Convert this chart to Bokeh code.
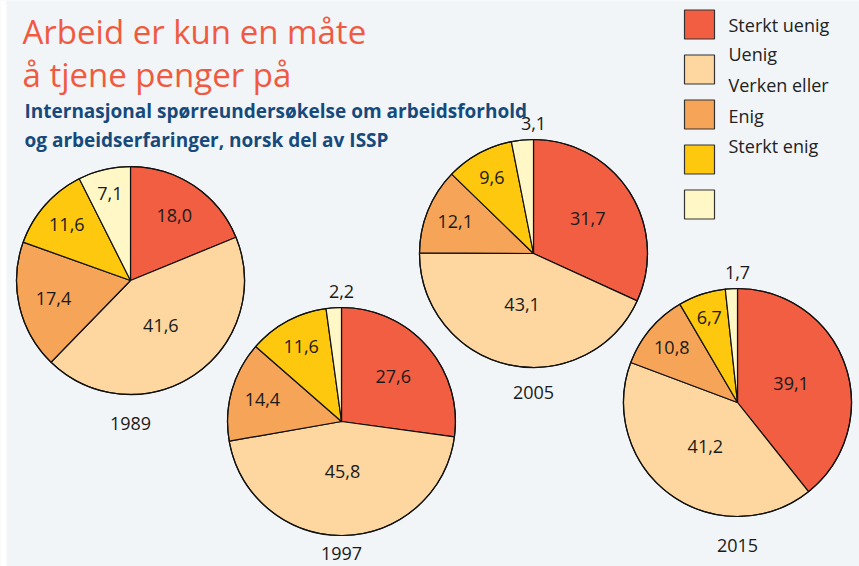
import math
from bokeh.plotting import figure
from bokeh.models import Range1d, ColumnDataSource
from bokeh.core.properties import value
from bokeh.embed import file_html
from bokeh.resources import INLINE

# ---- data ----
years = ["1989", "1997", "2005", "2015"]
categories = ["Sterkt uenig", "Uenig", "Verken eller", "Enig", "Sterkt enig"]
v1989 = [18.0, 41.6, 17.4, 11.6, 7.1]
v1997 = [27.6, 45.8, 14.4, 11.6, 2.2]
v2005 = [31.7, 43.1, 12.1, 9.6, 3.1]
v2015 = [39.1, 41.2, 10.8, 6.7, 1.7]
series = [v1989, v1997, v2005, v2015]

# ---- styles / layout ----
colors = ["#F15E41", "#FDD79F", "#F6A457", "#FEC80E", "#FFF8C6"]
BG = "#F1F5F7"
FONT = "Open Sans"
W, H = 859, 566

def sy(y):  # reference screen y -> data y
    return H - y

pie_centers = [(130, 280), (341, 421), (533, 253), (737, 402)]
year_label_y = [423, 553, 392, 545]
R = 114

p = figure(width=W, height=H, output_backend="svg", toolbar_location=None,
           x_range=Range1d(0, W), y_range=Range1d(0, H),
           min_border=0, background_fill_color=BG, border_fill_color=BG,
           outline_line_color=None)
p.axis.visible = False
p.grid.visible = False

# white strip at the left edge
p.quad(left=0, right=6, bottom=0, top=H, fill_color="white", line_color=None)

for vals, (cx, cyy), yr, yly in zip(series, pie_centers, years, year_label_y):
    total = sum(vals)
    cum = 0.0
    starts, ends, lx, ly, lt = [], [], [], [], []
    for v in vals:
        a0 = math.pi / 2 - 2 * math.pi * cum / total
        a1 = math.pi / 2 - 2 * math.pi * (cum + v) / total
        starts.append(a0)
        ends.append(a1)
        mid = (a0 + a1) / 2
        txt = f"{v:.1f}".replace(".", ",")
        if v < 5:
            lx.append(cx)
            ly.append(sy(cyy - R - 16))
        else:
            f = 0.85 - 0.009 * v
            lx.append(cx + f * R * math.cos(mid))
            ly.append(sy(cyy) + f * R * math.sin(mid))
        lt.append(txt)
        cum += v
    src = ColumnDataSource(dict(start=starts, end=ends, color=colors))
    p.wedge(x=cx, y=sy(cyy), radius=R, start_angle="start", end_angle="end",
            direction="clock", fill_color="color", line_color="#111111",
            line_width=1.2, source=src)
    p.circle(x=cx, y=sy(cyy), radius=R, fill_color=None, line_color="#111111", line_width=1.2)
    p.text(x=lx, y=ly, text=lt, text_font=value(FONT), text_font_size="18px",
           text_align="center", text_baseline="middle", text_color="#1a1a1a")
    p.text(x=[cx], y=[sy(yly)], text=[yr], text_font=value(FONT), text_font_size="18px",
           text_align="center", text_baseline="middle", text_color="#1a1a1a")

# ---- legend ----
box_y = [24 + 45 * i for i in range(len(categories))]
txt_y = [24, 53, 84, 115, 145]
p.rect(x=[699] * len(categories), y=[sy(b) for b in box_y], width=30, height=29,
       fill_color=colors, line_color="#333333", line_width=1.2)
p.text(x=[728] * len(categories), y=[sy(t) for t in txt_y], text=categories,
       text_font=value(FONT), text_font_size="18px", text_align="left",
       text_baseline="middle", text_color="#222222")

# ---- titles ----
p.text(x=[22, 22], y=[sy(31), sy(74)], text=["Arbeid er kun en måte", "å tjene penger på"],
       text_font=value(FONT), text_font_size="33px", text_color="#F05A40",
       text_baseline="alphabetic", text_align="left")
p.text(x=[24, 24], y=[sy(110), sy(139)],
       text=["Internasjonal spørreundersøkelse om arbeidsforhold",
             "og arbeidserfaringer, norsk del av ISSP"],
       text_font=value(FONT), text_font_size="19px", text_font_style="bold",
       text_color="#174A7C", text_baseline="alphabetic", text_align="left")

open("out.html", "w").write(file_html(p, INLINE))
